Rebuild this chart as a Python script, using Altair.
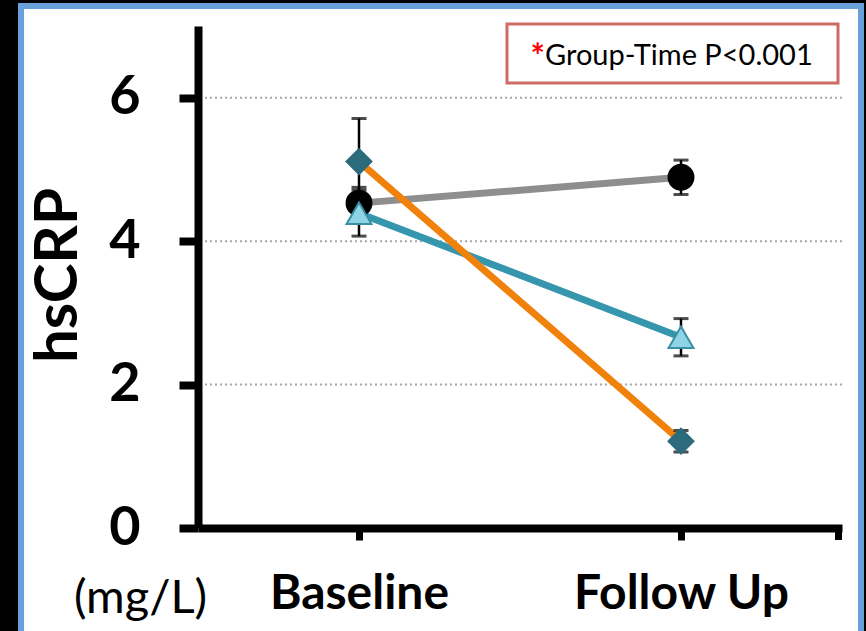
import altair as alt
import pandas as pd

times = ["Baseline", "Follow Up"]
groups = ["Group 1", "Group 2", "Group 3"]
means_g1 = [4.53, 4.89]
errs_g1 = [0.22, 0.24]
means_g2 = [4.39, 2.66]
errs_g2 = [0.32, 0.26]
means_g3 = [5.11, 1.21]
errs_g3 = [0.60, 0.15]
y_ticks = [0, 2, 4, 6]
grid_values = [2, 4, 6]

line_colors = ["#8e8e8e", "#3596ad", "#f0820c"]
fill_colors = ["#000000", "#8fd3e6", "#2b6b7c"]
stroke_colors = ["#000000", "#3a8fa5", "#2b6b7c"]
shapes = ["circle", "triangle-up", "diamond"]

rows = []
for g, m, e in zip(groups, [means_g1, means_g2, means_g3], [errs_g1, errs_g2, errs_g3]):
    for t, mv, ev in zip(times, m, e):
        rows.append({"time": t, "group": g, "mean": mv, "lo": mv - ev, "hi": mv + ev})
df = pd.DataFrame(rows)

W, H = 644, 502
FONT = "Lato"

x_enc = alt.X(
    "time:N",
    sort=times,
    scale=alt.Scale(type="point", padding=0.5),
    axis=alt.Axis(
        title="(mg/L)", titleX=-58, titleY=70, titleAlign="center", titleBaseline="middle",
        titleFont=FONT, titleFontSize=47, titleFontWeight="normal", titleColor="black",
        labelFont=FONT, labelFontSize=48, labelFontWeight="bold", labelColor="black",
        labelAngle=0, labelPadding=30, labelLimit=500, tickSize=12, tickWidth=7, tickColor="black",
        domainColor="black", domainWidth=8, grid=False, zindex=2,
    ),
)
y_scale = alt.Scale(domain=[0, 7], nice=False, zero=True)
y_axis = alt.Axis(
    values=y_ticks, format="d", title="hsCRP", titleX=-140, titleY=249, titleAngle=270,
    titleAlign="center", titleBaseline="middle", titleFont=FONT, titleFontSize=60,
    titleFontWeight="bold", titleColor="black",
    labelFont=FONT, labelFontSize=54, labelFontWeight="bold", labelColor="black",
    labelPadding=39, labelFlush=False, labelOverlap=False,
    tickSize=19, tickWidth=8, tickColor="black",
    domainColor="black", domainWidth=8, grid=False, zindex=2,
)

base = alt.Chart(df)

dummy = pd.DataFrame({"k": [0]})
frame = alt.Chart(dummy).mark_rect(fill="white", stroke="#68a0dc", strokeWidth=6).encode(
    x=alt.value(-177), x2=alt.value(663), y=alt.value(-20), y2=alt.value(614)
)
grid = alt.Chart(pd.DataFrame({"v": grid_values})).mark_rule(
    color="#a8a8a8", strokeWidth=2, strokeDash=[2, 3]
).encode(y=alt.Y("v:Q", scale=y_scale))
note_box = alt.Chart(dummy).mark_rect(fill="white", stroke="#cd6b65", strokeWidth=3).encode(
    x=alt.value(309), x2=alt.value(640), y=alt.value(-2), y2=alt.value(57)
)
note_star = alt.Chart(dummy).mark_text(
    text="*", font=FONT, fontSize=34, fontWeight="bold", color="#ff0000", align="right", baseline="middle"
).encode(x=alt.value(347), y=alt.value(32))
note_text = alt.Chart(dummy).mark_text(
    text="Group-Time P<0.001", font=FONT, fontSize=29, color="black", align="left", baseline="middle"
).encode(x=alt.value(347), y=alt.value(30))

lines = base.mark_line(strokeWidth=7).encode(
    x=x_enc,
    y=alt.Y("mean:Q", scale=y_scale, axis=y_axis),
    color=alt.Color("group:N", scale=alt.Scale(domain=groups, range=line_colors), legend=None),
    detail="group:N",
)
err_rule = base.mark_rule(color="black", strokeWidth=2.5).encode(
    x=alt.X("time:N", sort=times), y="lo:Q", y2="hi:Q"
)
cap_hi = base.mark_tick(color="black", size=15, thickness=3).encode(
    x=alt.X("time:N", sort=times), y="hi:Q"
)
cap_lo = base.mark_tick(color="black", size=15, thickness=3).encode(
    x=alt.X("time:N", sort=times), y="lo:Q"
)
points = base.mark_point(filled=True, size=620, strokeWidth=2, opacity=1).encode(
    x=alt.X("time:N", sort=times),
    y="mean:Q",
    shape=alt.Shape("group:N", scale=alt.Scale(domain=groups, range=shapes), legend=None),
    fill=alt.Fill("group:N", scale=alt.Scale(domain=groups, range=fill_colors), legend=None),
    stroke=alt.Stroke("group:N", scale=alt.Scale(domain=groups, range=stroke_colors), legend=None),
    order=alt.Order("group:N"),
)
end_tick = alt.Chart(dummy).mark_rule(color="black", strokeWidth=7).encode(
    x=alt.value(640.5), y=alt.value(H), y2=alt.value(H + 12)
)

chart = alt.layer(
    frame, grid, note_box, note_star, note_text, lines, err_rule, cap_hi, cap_lo, points, end_tick
).resolve_scale(
    color="independent", fill="independent", stroke="independent"
).properties(
    width=W, height=H, autosize="none",
    padding={"left": 198, "top": 26, "right": 24, "bottom": 103},
    background="black",
).configure_view(stroke="transparent")

chart.save("out.html", embed_options={"renderer": "svg", "actions": False})
